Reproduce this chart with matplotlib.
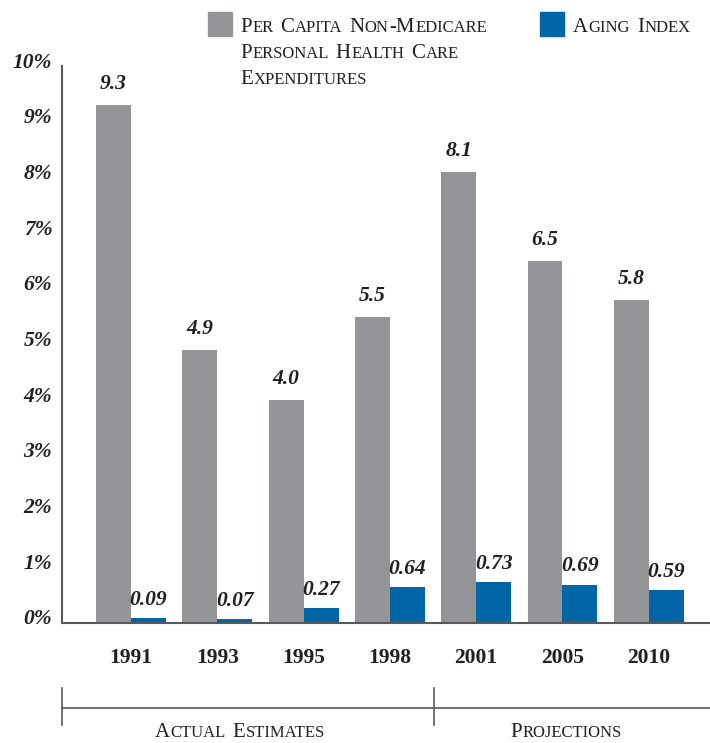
import matplotlib
matplotlib.use("Agg")
import matplotlib.pyplot as plt
import matplotlib.transforms as mtransforms
from matplotlib.patches import Rectangle
from matplotlib.lines import Line2D
import numpy as np

# data
years = ["1991", "1993", "1995", "1998", "2001", "2005", "2010"]
spending = [9.3, 4.9, 4.0, 5.5, 8.1, 6.5, 5.8]
aging = [0.09, 0.07, 0.27, 0.64, 0.73, 0.69, 0.59]
spending_labels = ["9.3", "4.9", "4.0", "5.5", "8.1", "6.5", "5.8"]
aging_labels = ["0.09", "0.07", "0.27", "0.64", "0.73", "0.69", "0.59"]
yticks = list(range(0, 11))
ytick_labels = [f"{v}%" for v in yticks]

GRAY = "#939598"
BLUE = "#0066a6"
INK = "#231f20"
SERIF = "Liberation Serif"

W, H = 710, 743
fig = plt.figure(figsize=(W / 100, H / 100), dpi=100)
ax = fig.add_axes([62 / W, (H - 623) / H, (W - 62) / W, (623 - 66) / H])

x = np.arange(len(years))
bw = 0.405
ax.bar(x - bw / 2, spending, bw, color=GRAY, linewidth=0)
ax.bar(x + bw / 2, aging, bw, color=BLUE, linewidth=0)

for xi, v, s in zip(x, spending, spending_labels):
    ax.annotate(s, (xi - bw / 2, v), xytext=(0, 8), textcoords="offset points",
                ha="center", va="bottom", fontsize=15.5, fontweight="bold",
                fontstyle="italic", family=SERIF, color=INK)
for xi, v, s in zip(x, aging, aging_labels):
    ax.annotate(s, (xi + bw / 2, v), xytext=(0, 6), textcoords="offset points",
                ha="center", va="bottom", fontsize=15.5, fontweight="bold",
                fontstyle="italic", family=SERIF, color=INK)

ax.set_xlim(-0.8, 6.71)
ax.set_ylim(0, 10)
ax.set_yticks(yticks)
ax.set_yticklabels(ytick_labels, fontsize=15.5, fontweight="bold",
                   fontstyle="italic", family=SERIF, color=INK)
ax.set_xticks(x)
ax.set_xticklabels(years, fontsize=15.5, fontweight="bold", family=SERIF, color=INK)
ax.tick_params(axis="y", length=0, pad=7)
ax.tick_params(axis="x", length=0, pad=18)
up = mtransforms.ScaledTranslation(0, 6 / 100, fig.dpi_scale_trans)
for lab in ax.get_yticklabels():
    lab.set_transform(lab.get_transform() + up)

for side in ["top", "right"]:
    ax.spines[side].set_visible(False)
for side in ["left", "bottom"]:
    ax.spines[side].set_color("#58595b")
    ax.spines[side].set_linewidth(1.5)

renderer = fig.canvas.get_renderer()


def small_caps(px, py, s, size=15, ha="left"):
    """draw s in fake small caps; px, py in pixels from top-left, py = baseline"""
    runs = []
    for ch in s:
        kind = "sp" if ch == " " else ("lo" if ch.islower() else "up")
        if runs and runs[-1][1] == kind:
            runs[-1][0] += ch
        else:
            runs.append([ch, kind])
    space = 0.3 * size * 100 / 72

    def layout(draw, start):
        cur = start
        for txt, kind in runs:
            if kind == "sp":
                cur += space * len(txt)
                continue
            fs = size * 0.8 if kind == "lo" else size
            t = fig.text(cur / W, 1 - py / H, txt.upper(), fontsize=fs,
                         family=SERIF, color=INK, va="baseline", ha="left")
            cur += t.get_window_extent(renderer).width + 0.6
            if not draw:
                t.remove()
        return cur - start

    width = layout(False, px)
    start = px - width / 2 if ha == "center" else px
    layout(True, start)


# legend
fig.patches.append(Rectangle((208 / W, 1 - 36 / H), 24 / W, 24 / H,
                             transform=fig.transFigure, color=GRAY))
fig.patches.append(Rectangle((540 / W, 1 - 36 / H), 24 / W, 24 / H,
                             transform=fig.transFigure, color=BLUE))
small_caps(240, 32, "Per Capita Non-Medicare")
small_caps(240, 58, "Personal Health Care")
small_caps(240, 84, "Expenditures")
small_caps(573, 32, "Aging Index")

# period brackets
def fig_line(xs, ys):
    fig.lines.append(Line2D([v / W for v in xs], [1 - v / H for v in ys],
                            transform=fig.transFigure, color="#58595b", lw=1.2))

fig_line([62, 62], [688, 725])
fig_line([434, 434], [688, 725])
fig_line([62, 710], [708, 708])
small_caps(240, 737, "Actual Estimates", ha="center")
small_caps(566, 737, "Projections", ha="center")

fig.savefig("out.png", dpi=100)
